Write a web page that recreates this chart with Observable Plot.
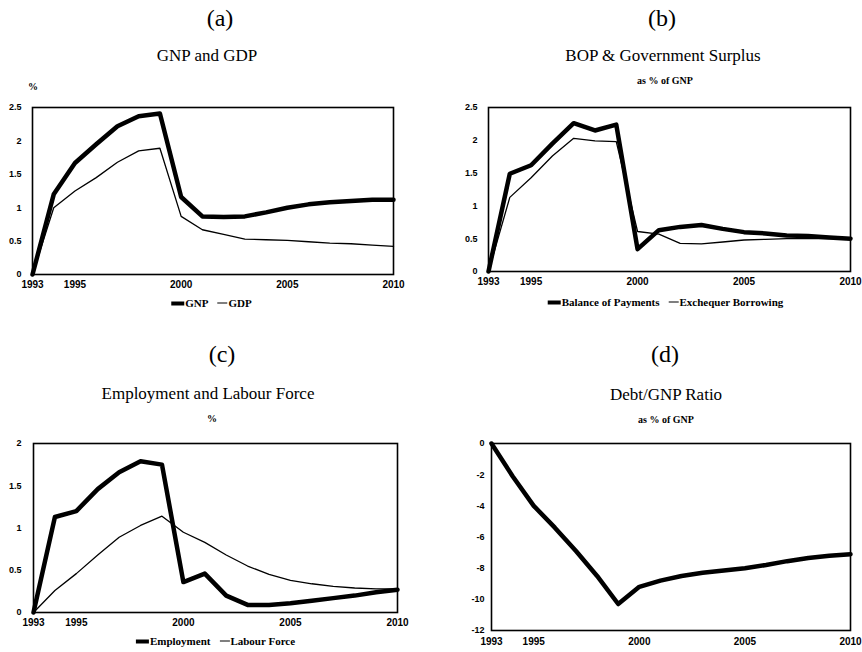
<!DOCTYPE html>
<html><head><meta charset="utf-8">
<script src="https://cdn.jsdelivr.net/npm/d3@7"></script>
<script src="https://cdn.jsdelivr.net/npm/@observablehq/plot@0.6"></script>
<style>
body{margin:0;background:#fff;}
#wrap{position:relative;width:862px;height:652px;overflow:hidden;background:#fff;}
.p{position:absolute;}
.t{position:absolute;transform:translate(-50%,-50%);white-space:nowrap;font-family:"Liberation Serif","Times New Roman",serif;color:#000;line-height:1;}
.lab{font-size:24px;}
.ttl{font-size:17px;}
.sub{font-size:10px;font-weight:bold;}
.leg{font-size:11px;font-weight:bold;display:flex;align-items:center;}
.sw{display:inline-block;background:#000;}
</style></head><body><div id="wrap"></div>
<script>
const years = [1993,1994,1995,1996,1997,1998,1999,2000,2001,2002,2003,2004,2005,2006,2007,2008,2009,2010];
const xTicks = [1993,1995,2000,2005,2010];

// (a) GNP and GDP, %
const gnp = [0,1.2,1.67,1.95,2.22,2.37,2.41,1.16,0.87,0.86,0.87,0.93,1.0,1.05,1.08,1.10,1.12,1.12];
const gdp = [0,1.0,1.25,1.45,1.68,1.85,1.89,0.87,0.67,0.6,0.53,0.52,0.51,0.49,0.47,0.46,0.44,0.42];
const ticksA = [0,0.5,1,1.5,2,2.5];

// (b) BOP & Government Surplus, as % of GNP
const bop = [0,1.49,1.62,1.95,2.26,2.15,2.24,0.34,0.63,0.68,0.71,0.65,0.6,0.58,0.55,0.54,0.52,0.5];
const exch = [0,1.13,1.43,1.76,2.03,1.99,1.98,0.61,0.57,0.43,0.42,0.45,0.48,0.49,0.5,0.5,0.5,0.5];
const ticksB = [0,0.5,1,1.5,2,2.5];

// (c) Employment and Labour Force, %
const employment = [0,1.13,1.2,1.46,1.66,1.79,1.75,0.36,0.46,0.2,0.09,0.09,0.11,0.14,0.17,0.2,0.24,0.27];
const labourForce = [0,0.26,0.46,0.68,0.89,1.03,1.14,0.95,0.83,0.68,0.55,0.45,0.38,0.34,0.31,0.29,0.28,0.28];
const ticksC = [0,0.5,1,1.5,2];

// (d) Debt/GNP Ratio, as % of GNP
const debt = [0,-2.1,-4.0,-5.4,-6.9,-8.5,-10.3,-9.2,-8.8,-8.5,-8.3,-8.15,-8.0,-7.8,-7.55,-7.35,-7.2,-7.1];
const ticksD = [0,-2,-4,-6,-8,-10,-12];

const wrap = document.getElementById("wrap");

function txt(cls, html, x, y, extra) {
  const d = document.createElement("div");
  d.className = "t " + cls;
  d.innerHTML = html;
  d.style.left = x + "px";
  d.style.top = y + "px";
  if (extra) Object.assign(d.style, extra);
  wrap.appendChild(d);
  return d;
}

function chart(o) {
  const marks = [Plot.frame({stroke:"#000", strokeWidth:1.6})];
  for (const s of o.series) {
    marks.push(Plot.line(years.map((yr,i)=>({year:yr, value:s.values[i]})),
      {x:"year", y:"value", stroke:"#000", strokeWidth:s.w}));
  }
  marks.push(Plot.axisX({ticks:xTicks, tickFormat:d=>String(d), tickSize:0, tickPadding:o.xpad, fontSize:10, fontWeight:"bold", label:null}));
  marks.push(Plot.axisY({ticks:o.yticks, tickFormat:d=>String(d), tickSize:0, tickPadding:o.ypad, fontSize:9, fontWeight:"bold", label:null}));
  const svg = Plot.plot({
    width:431, height:326,
    marginLeft:o.ml, marginRight:o.mr, marginTop:o.mt, marginBottom:o.mb,
    x:{domain:[1993,2010]},
    y:{domain:o.ydomain},
    style:{background:"transparent", fontFamily:"'Liberation Sans', Arial, sans-serif", color:"#000"},
    marks
  });
  const box = document.createElement("div");
  box.className = "p";
  box.style.left = o.left + "px";
  box.style.top = o.top + "px";
  box.appendChild(svg);
  wrap.appendChild(box);
}

function legend(items, x, y) {
  const html = items.map(it =>
    `<span class="sw" style="width:${it.sw}px;height:${it.h}px;margin-right:1px"></span><span style="margin-right:9px">${it.label}</span>`
  ).join("");
  txt("leg", html, x, y);
}

// Panel (a)
chart({left:0, top:0, ml:32, mr:38, mt:107, mb:52, ydomain:[0,2.5], yticks:ticksA, xpad:6, ypad:11,
  series:[{values:gnp, w:4.5},{values:gdp, w:1.3}]});
txt("lab", "(a)", 220, 18);
txt("ttl", "GNP and GDP", 207, 55);
txt("sub", "%", 33, 87);
legend([{label:"GNP", sw:13, h:4},{label:"GDP", sw:10, h:1.3}], 216, 303);

// Panel (b)
chart({left:431, top:0, ml:57, mr:12, mt:107, mb:55, ydomain:[0,2.5], yticks:ticksB, xpad:6, ypad:11,
  series:[{values:bop, w:4.5},{values:exch, w:1.3}]});
txt("lab", "(b)", 662, 18);
txt("ttl", "BOP &amp; Government Surplus", 663, 55);
txt("sub", "as % of GNP", 665, 81);
legend([{label:"Balance of Payments", sw:13, h:4},{label:"Exchequer Borrowing", sw:10, h:1.3}], 670, 302);

// Panel (c)
chart({left:0, top:326, ml:33, mr:34, mt:117, mb:40, ydomain:[0,2], yticks:ticksC, xpad:6, ypad:12,
  series:[{values:employment, w:4.5},{values:labourForce, w:1.3}]});
txt("lab", "(c)", 222, 354);
txt("ttl", "Employment and Labour Force", 208, 393);
txt("sub", "%", 212, 419);
legend([{label:"Employment", sw:13, h:4},{label:"Labour Force", sw:10, h:1.3}], 220, 641);

// Panel (d)
chart({left:431, top:326, ml:60, mr:12, mt:117, mb:22, ydomain:[-12,0], yticks:ticksD, xpad:7, ypad:7,
  series:[{values:debt, w:4.5}]});
txt("lab", "(d)", 665, 354);
txt("ttl", "Debt/GNP Ratio", 666, 394);
txt("sub", "as % of GNP", 666, 420);
</script>
</body></html>
